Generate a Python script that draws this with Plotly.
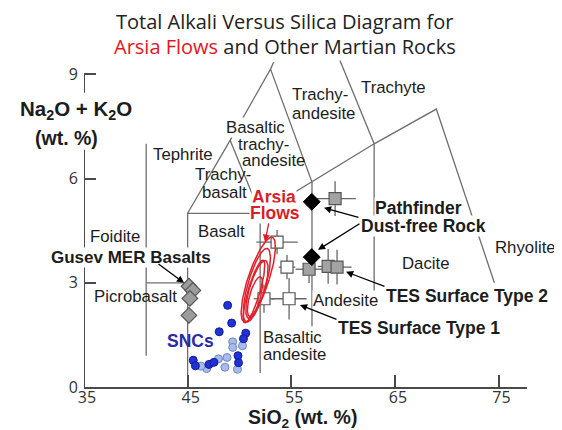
import numpy as np
import plotly.graph_objects as go

# ---------------- data ----------------
# TAS field boundaries (SiO2, Na2O+K2O), None separates polylines
tas_sio2 = [41, 41, None, 41, 45, None,
            45, 45, 52, 57, 63, 69, 74.6, None,
            45, 49.1, 52, 52, None,
            49.1, 53, 57, 57, None,
            53, 53.3, None,
            63, 63, None,
            63, 59.7]
tas_alk = [0.9, 7, None, 3, 3, None,
           0, 5, 5, 5.9, 7, 8, 3.0, None,
           5, 7.1, 5, 0.4, None,
           7.1, 9.15, 5.9, 1.75, None,
           9.15, 9.35, None,
           7, 2.7, None,
           7, 9.4]

# Gusev MER basalts (grey diamonds)
gusev_sio2 = [45.13, 45.51, 45.22, 45.13]
gusev_alk = [2.90, 2.78, 2.55, 2.06]

# Pathfinder dust-free rock (black diamonds)
pf_sio2 = [56.98, 56.98]
pf_alk = [5.33, 3.74]

# TES Surface Type 1 (white squares) with errors
tes1_sio2 = [53.63, 54.59, 54.79, 52.37]
tes1_alk = [4.17, 3.45, 2.54, 2.54]
tes1_ex = [2.0, 0.8, 1.7, 1.0]
tes1_ey = [0.35, 0.35, 0.6, 0.4]

# TES Surface Type 2 (grey squares) with errors
tes2_sio2 = [59.23, 56.72, 58.56, 59.42]
tes2_alk = [5.42, 3.39, 3.47, 3.45]
tes2_ex = [2.0, 1.3, 1.0, 1.4]
tes2_ey = [0.5, 0.4, 0.5, 0.5]

# SNC meteorites
snc_dark_sio2 = [48.86, 49.25, 48.05, 50.61, 50.39, 45.54, 45.75, 47.06, 47.54, 49.86, 49.91]
snc_dark_alk = [2.35, 1.84, 1.59, 1.55, 1.39, 0.77, 0.61, 0.65, 0.71, 0.90, 0.70]
snc_light_sio2 = [49.35, 49.35, 50.29, 46.84, 47.98, 48.80, 48.60, 49.81, 46.29]
snc_light_alk = [1.30, 1.14, 1.19, 0.53, 0.81, 0.85, 0.57, 0.51, 0.60]

# Arsia flows uncertainty ellipses: centre, half-width, half-height, shear
ell_cx = [51.82, 51.68, 51.69, 51.40, 51.50]
ell_cy = [3.09, 2.93, 2.81, 2.75, 2.60]
ell_rx = [1.05, 0.90, 0.75, 0.60, 0.55]
ell_ry = [1.22, 1.06, 0.83, 0.90, 0.57]
ell_k = [1.05, 0.90, 0.93, 0.95, 0.86]

x_ticks = [35, 45, 55, 65, 75]
y_ticks = [0, 3, 6, 9]

# ---------------- layout geometry ----------------
W, H = 562, 430
OFF = 8                       # default page body margin
PL, PR, PT, PB = 84, 527, 58.4, 387   # plot area in window pixels
XR = [35, 77.75]
YR = [0, 9.47]
ML, MR, MT, MB = PL - OFF, W - (PR - OFF), PT - OFF, H - (PB - OFF)


def XP(px):
    return (px - PL) / (PR - PL)


def YP(py):
    return (PB - py) / (PB - PT)


def XD(px):
    return XR[0] + XP(px) * (XR[1] - XR[0])


def YD(py):
    return YR[0] + YP(py) * (YR[1] - YR[0])


LINE_COL = "#6e6e6e"
AX_COL = "#4a4a4a"
TXT = "#1c1c1c"
FONT = "Liberation Sans, Arial, sans-serif"
TFONT = "Open Sans, sans-serif"

fig = go.Figure()

fig.add_trace(go.Scatter(x=tas_sio2, y=tas_alk, mode="lines",
                         line=dict(color=LINE_COL, width=1.3),
                         hoverinfo="skip", showlegend=False))

# TES type 1
fig.add_trace(go.Scatter(x=tes1_sio2, y=tes1_alk, mode="markers",
                         marker=dict(symbol="square", size=12, color="white",
                                     line=dict(color="#555", width=1.2)),
                         error_x=dict(type="data", array=tes1_ex, color="#666", thickness=1.3, width=0),
                         error_y=dict(type="data", array=tes1_ey, color="#666", thickness=1.3, width=0),
                         showlegend=False))
# TES type 2
fig.add_trace(go.Scatter(x=tes2_sio2, y=tes2_alk, mode="markers",
                         marker=dict(symbol="square", size=12, color="#a3a3a3",
                                     line=dict(color="#555", width=1.2)),
                         error_x=dict(type="data", array=tes2_ex, color="#666", thickness=1.3, width=0),
                         error_y=dict(type="data", array=tes2_ey, color="#666", thickness=1.3, width=0),
                         showlegend=False))
# Pathfinder
fig.add_trace(go.Scatter(x=pf_sio2, y=pf_alk, mode="markers",
                         marker=dict(symbol="diamond", size=13, color="black",
                                     line=dict(color="black", width=1)),
                         showlegend=False))

# Arsia ellipses
t = np.linspace(0, 2 * np.pi, 120)
for cx, cy, rx, ry, k in zip(ell_cx, ell_cy, ell_rx, ell_ry, ell_k):
    ex = cx + rx * np.cos(t) + k * ry * np.sin(t)
    ey = cy + ry * np.sin(t)
    fig.add_trace(go.Scatter(x=ex, y=ey, mode="lines",
                             line=dict(color="#e3202a", width=1.5),
                             hoverinfo="skip", showlegend=False))

# SNCs
fig.add_trace(go.Scatter(x=snc_light_sio2, y=snc_light_alk, mode="markers",
                         marker=dict(symbol="circle", size=8, color="#a9bbe8",
                                     line=dict(color="#6f86c6", width=1)),
                         showlegend=False))
fig.add_trace(go.Scatter(x=snc_dark_sio2, y=snc_dark_alk, mode="markers",
                         marker=dict(symbol="circle", size=8, color="#2233d6",
                                     line=dict(color="#0f1a9a", width=1)),
                         showlegend=False))
# Gusev
fig.add_trace(go.Scatter(x=gusev_sio2, y=gusev_alk, mode="markers",
                         marker=dict(symbol="diamond", size=12, color="#9c9c9c",
                                     line=dict(color="#555", width=1.2)),
                         showlegend=False))

ann = []


def lab(text, px, py, size=16.8, color=TXT, bold=False, bg=None, font=FONT):
    if bold:
        text = "<b>" + text + "</b>"
    d = dict(text=text, x=XP(px), y=YP(py), xref="paper", yref="paper", showarrow=False,
             xanchor="center", yanchor="middle",
             font=dict(family=font, size=size, color=color), borderpad=0)
    if bg:
        d["bgcolor"] = bg
    ann.append(d)


def arrow(x0, y0, x1, y1, color="black"):
    ann.append(dict(text="", x=XD(x1), y=YD(y1), ax=XD(x0), ay=YD(y0),
                    xref="x", yref="y", axref="x", ayref="y",
                    showarrow=True, arrowhead=2, arrowsize=1.1, arrowwidth=1.3,
                    arrowcolor=color))


# title
lab("Total Alkali Versus Silica Diagram for", 284, 21.5, size=20, font=TFONT, color="#222")
lab("<span style='color:#e3161e'>Arsia Flows</span> and Other Martian Rocks", 285, 46.5,
    size=20, font=TFONT, color="#222")

# axis titles
lab("Na<sub>2</sub>O + K<sub>2</sub>O", 76, 110, size=20.5, bold=True)
lab("(wt. %)", 66.5, 138, size=19.5, bold=True)
lab("SiO<sub>2</sub> (wt. %)", 302, 418, size=19.5, bold=True)

# field labels
lab("Trachy-", 319.5, 95)
lab("andesite", 323.5, 114)
lab("Trachyte", 393.5, 88)
lab("Basaltic", 255, 127.5, bg="white")
lab("trachy-", 263, 144.5, bg="white")
lab("andesite", 273, 161)
lab("Tephrite", 182.5, 154.5)
lab("Trachy-", 222.5, 174.5)
lab("basalt", 224, 192.5)
lab("Basalt", 221.5, 231.5)
lab("Foidite", 115, 236.5)
lab("Picrobasalt", 135.5, 296.5)
lab("Basaltic", 292.5, 338)
lab("andesite", 294, 355)
lab("Andesite", 345, 300.5, bg="white")
lab("Dacite", 426, 264)
lab("Rhyolite", 525, 247.5)

# data labels
lab("Arsia", 274, 197, size=17.5, bold=True, color="#d81e26", bg="white")
lab("Flows", 275, 213.5, size=17.5, bold=True, color="#d81e26", bg="white")
lab("Gusev MER Basalts", 131, 257.5, size=17, bold=True, bg="white")
lab("Pathfinder", 418, 208.5, size=17.5, bold=True, bg="white")
lab("Dust-free Rock", 423, 226, size=17.5, bold=True, bg="white")
lab("TES Surface Type 2", 466.5, 296, size=17.5, bold=True, bg="white")
lab("TES Surface Type 1", 419, 328.5, size=17.5, bold=True, bg="white")
lab("SNCs", 190.5, 341.5, size=17.5, bold=True, color="#2b2ba6")

# arrows
arrow(157, 263, 184, 283)
arrow(269, 222, 265, 242, color="#d81e26")
arrow(360, 218, 324, 208)
arrow(361, 223, 318, 250)
arrow(386, 287, 346, 272)
arrow(338, 320, 300, 305)

fig.update_layout(
    width=W, height=H,
    margin=dict(l=ML, r=MR, t=MT, b=MB),
    paper_bgcolor="white", plot_bgcolor="white",
    annotations=ann,
    shapes=[dict(type="line", xref="x", yref="y", x0=35, x1=35, y0=0, y1=YD(150),
                 line=dict(color=AX_COL, width=2)),
            dict(type="line", xref="x", yref="y", x0=35, x1=35, y0=YD(93), y1=9,
                 line=dict(color=AX_COL, width=2))],
    xaxis=dict(range=XR, tickvals=x_ticks, ticks="inside", ticklen=12, tickwidth=2,
               tickcolor=AX_COL, showline=True, linecolor=AX_COL, linewidth=2,
               showgrid=False, zeroline=False, ticklabelstandoff=-5, ticklabelshift=3,
               tickfont=dict(family=TFONT, size=16, color="#333")),
    yaxis=dict(range=YR, tickvals=y_ticks, ticks="inside", ticklen=12, tickwidth=2,
               tickcolor=AX_COL, showline=False, showgrid=False, zeroline=False,
               ticklabelstandoff=5,
               tickfont=dict(family=TFONT, size=16, color="#333")),
)

fig.write_html("out.html")
